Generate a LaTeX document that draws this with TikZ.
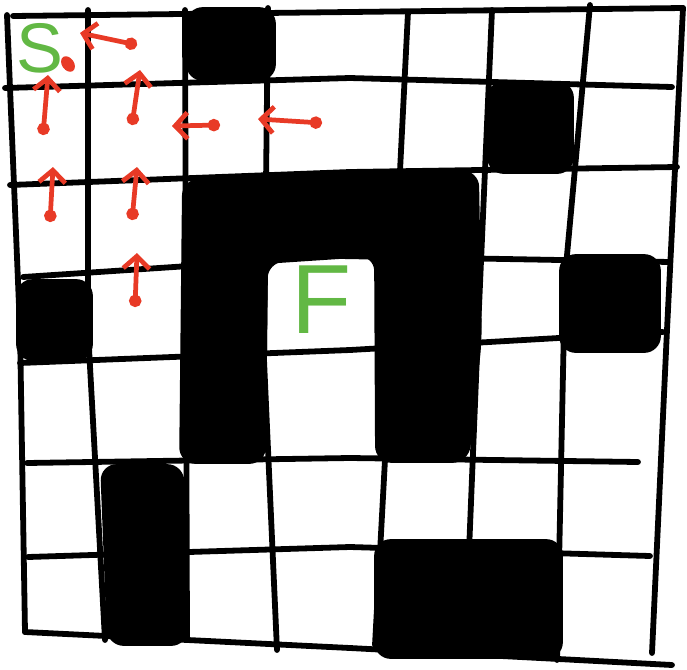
\documentclass[tikz,border=0pt]{standalone}
\usepackage{fontspec}
\setsansfont{Liberation Sans}
\usetikzlibrary{arrows.meta}
\definecolor{pathred}{RGB}{232,58,38}
\definecolor{goalgreen}{RGB}{98,184,68}
\tikzset{
  gridline/.style={draw=black, line width=3.3pt, line cap=round, line join=round},
  wall/.style={fill=black, draw=black, line width=1pt, rounded corners=9pt},
  move/.style={pathred, line width=2.7pt, line cap=round,
               {Circle[length=7pt]}-{Straight Barb[length=7pt,width=15pt]}},
  goallabel/.style={text=goalgreen, font=\sffamily, inner sep=0pt}
}
\begin{document}
\begin{tikzpicture}[x=0.02cm,y=-0.02cm]
  \useasboundingbox (0,0) rectangle (687,670);

  % Grid, drawn by hand
  \foreach \ax/\ay/\bx/\by/\cx/\cy in {7/15/20/330/25/632, 88/10/88/330/105/640,
      185/10/186/330/187/637, 268/8/264/360/277/650, 408/12/392/330/375/645,
      492/10/478/330/465/650, 590/5/565/277/557/660, 683/8/667/330/652/653}
    \draw[gridline] (\ax,\ay) -- (\bx,\by) -- (\cx,\cy);
  \foreach \ax/\ay/\bx/\by/\cx/\cy in {13/16/350/12/683/8, 5/88/350/78/672/87,
      10/185/350/172/677/167, 23/277/340/256/670/262, 20/363/350/350/663/332,
      27/463/350/458/638/462, 28/557/350/547/650/556, 25/632/350/648/672/665}
    \draw[gridline] (\ax,\ay) -- (\bx,\by) -- (\cx,\cy);

  % Walls
  \fill[wall] (187,8) rectangle (275,80);
  \fill[wall] (488,82) rectangle (573,173);
  \fill[wall] (183,180) -- (478,171) -- (481,340) -- (468,462) -- (376,462)
              -- (375,255) -- (267,262) -- (265,463) -- (180,463) -- cycle;
  \fill[wall] (17,280) rectangle (92,360);
  \fill[wall] (560,255) rectangle (660,352);
  \fill[wall] (101,465) -- (183,465) -- (187,645) -- (108,645) -- cycle;
  \fill[wall] (375,540) rectangle (562,658);

  % Start and finish
  \node[goallabel, font=\sffamily\fontsize{40}{40}\selectfont] (start) at (40,48) {S};
  \node[goallabel, font=\sffamily\fontsize{56}{56}\selectfont] (finish) at (322,300) {F};
  \fill[pathred, rotate around={35:(68,64)}] (68,64) ellipse [x radius=0.12cm, y radius=0.17cm];

  % Moves back to the start
  \coordinate (t1) at (137,45);  \coordinate (h1) at (80,33);
  \coordinate (t2) at (43,135);  \coordinate (h2) at (48,75);
  \coordinate (t3) at (50,222);  \coordinate (h3) at (53,167);
  \coordinate (t4) at (132,125); \coordinate (h4) at (140,70);
  \coordinate (t5) at (132,220); \coordinate (h5) at (137,167);
  \coordinate (t6) at (135,307); \coordinate (h6) at (137,253);
  \coordinate (t7) at (220,125); \coordinate (h7) at (172,126);
  \coordinate (t8) at (322,123); \coordinate (h8) at (258,119);
  \foreach \i in {1,...,8}
    \draw[move] (t\i) -- (h\i);
\end{tikzpicture}
\end{document}
